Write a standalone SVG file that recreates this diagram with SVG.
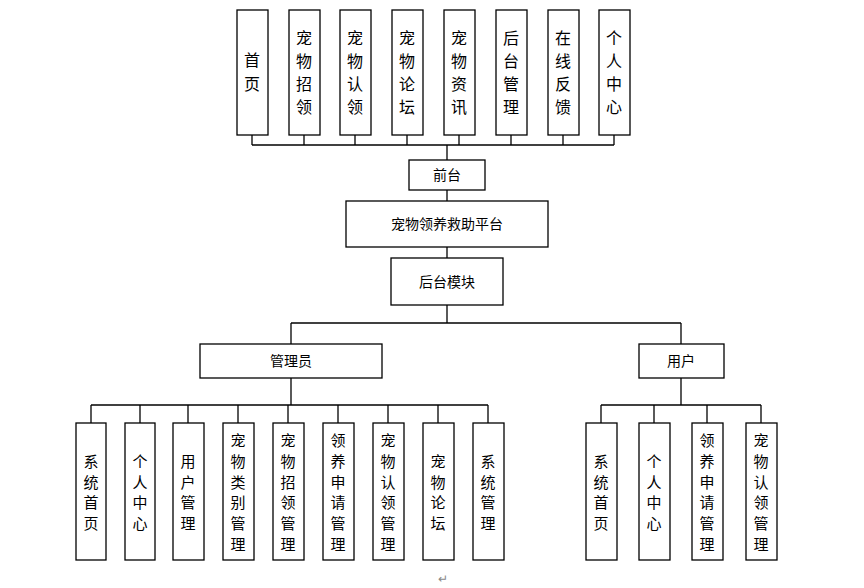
<svg xmlns="http://www.w3.org/2000/svg" width="864" height="588" viewBox="0 0 864 588">
<style>
rect{fill:#fff;stroke:#000;stroke-width:1.3}
.c line{stroke:#000;stroke-width:1.3}
text{font-family:"Noto Sans CJK SC",sans-serif;font-size:16px;fill:#000;text-anchor:middle}
.s{font-size:14px}
.b text{font-size:15px}
</style>
<rect x="0" y="0" width="864" height="588" style="stroke:none"/>
<g class="c">
<line x1="252" y1="135" x2="252" y2="145"/><line x1="304" y1="135" x2="304" y2="145"/><line x1="355" y1="135" x2="355" y2="145"/><line x1="407" y1="135" x2="407" y2="145"/><line x1="459" y1="135" x2="459" y2="145"/><line x1="511" y1="135" x2="511" y2="145"/><line x1="563" y1="135" x2="563" y2="145"/><line x1="614" y1="135" x2="614" y2="145"/>
<line x1="252" y1="145" x2="614" y2="145"/>
<line x1="447" y1="145" x2="447" y2="160"/>
<line x1="447" y1="190" x2="447" y2="201"/>
<line x1="447" y1="247" x2="447" y2="258"/>
<line x1="447" y1="305" x2="447" y2="323"/>
<line x1="291" y1="323" x2="681" y2="323"/>
<line x1="291" y1="323" x2="291" y2="344"/><line x1="681" y1="323" x2="681" y2="344"/>
<line x1="291" y1="378" x2="291" y2="405"/><line x1="681" y1="378" x2="681" y2="405"/>
<line x1="91" y1="405" x2="488" y2="405"/>
<line x1="91" y1="405" x2="91" y2="423"/><line x1="140" y1="405" x2="140" y2="423"/><line x1="188" y1="405" x2="188" y2="423"/><line x1="238" y1="405" x2="238" y2="423"/><line x1="288" y1="405" x2="288" y2="423"/><line x1="338" y1="405" x2="338" y2="423"/><line x1="388" y1="405" x2="388" y2="423"/><line x1="438" y1="405" x2="438" y2="423"/><line x1="488" y1="405" x2="488" y2="423"/>
<line x1="601" y1="405" x2="761" y2="405"/>
<line x1="601" y1="405" x2="601" y2="423"/><line x1="654" y1="405" x2="654" y2="423"/><line x1="707" y1="405" x2="707" y2="423"/><line x1="761" y1="405" x2="761" y2="423"/>
</g>
<g id="t1"><rect x="237" y="10" width="31" height="125"/><text x="252" y="66">首</text><text x="252" y="90">页</text></g>
<g id="t2"><rect x="289" y="10" width="31" height="125"/><text x="304" y="44">宠</text><text x="304" y="67">物</text><text x="304" y="90">招</text><text x="304" y="113">领</text></g>
<g id="t3"><rect x="340" y="10" width="31" height="125"/><text x="355" y="44">宠</text><text x="355" y="67">物</text><text x="355" y="90">认</text><text x="355" y="113">领</text></g>
<g id="t4"><rect x="392" y="10" width="31" height="125"/><text x="407" y="44">宠</text><text x="407" y="67">物</text><text x="407" y="90">论</text><text x="407" y="113">坛</text></g>
<g id="t5"><rect x="444" y="10" width="31" height="125"/><text x="459" y="44">宠</text><text x="459" y="67">物</text><text x="459" y="90">资</text><text x="459" y="113">讯</text></g>
<g id="t6"><rect x="496" y="10" width="31" height="125"/><text x="511" y="44">后</text><text x="511" y="67">台</text><text x="511" y="90">管</text><text x="511" y="113">理</text></g>
<g id="t7"><rect x="548" y="10" width="31" height="125"/><text x="563" y="44">在</text><text x="563" y="67">线</text><text x="563" y="90">反</text><text x="563" y="113">馈</text></g>
<g id="t8"><rect x="599" y="10" width="31" height="125"/><text x="614" y="44">个</text><text x="614" y="67">人</text><text x="614" y="90">中</text><text x="614" y="113">心</text></g>
<g id="qt"><rect x="409" y="160" width="76" height="30"/><text class="s" x="447" y="180">前台</text></g>
<g id="pt"><rect x="346" y="201" width="202" height="46"/><text class="s" x="447" y="229">宠物领养救助平台</text></g>
<g id="ht"><rect x="391" y="258" width="112" height="47"/><text class="s" x="447" y="287">后台模块</text></g>
<g id="gly"><rect x="200" y="344" width="182" height="34"/><text class="s" x="291" y="366">管理员</text></g>
<g id="yh"><rect x="639" y="344" width="85" height="34"/><text class="s" x="681" y="366">用户</text></g>
<g class="b">
<g id="a1"><rect x="76" y="423" width="30" height="137"/><text x="91" y="467">系</text><text x="91" y="488">统</text><text x="91" y="508">首</text><text x="91" y="529">页</text></g>
<g id="a2"><rect x="125" y="423" width="30" height="137"/><text x="140" y="467">个</text><text x="140" y="488">人</text><text x="140" y="508">中</text><text x="140" y="529">心</text></g>
<g id="a3"><rect x="173" y="423" width="31" height="137"/><text x="188" y="467">用</text><text x="188" y="488">户</text><text x="188" y="508">管</text><text x="188" y="529">理</text></g>
<g id="a4"><rect x="223" y="423" width="31" height="137"/><text x="238" y="446">宠</text><text x="238" y="467">物</text><text x="238" y="488">类</text><text x="238" y="508">别</text><text x="238" y="529">管</text><text x="238" y="550">理</text></g>
<g id="a5"><rect x="273" y="423" width="31" height="137"/><text x="288" y="446">宠</text><text x="288" y="467">物</text><text x="288" y="488">招</text><text x="288" y="508">领</text><text x="288" y="529">管</text><text x="288" y="550">理</text></g>
<g id="a6"><rect x="323" y="423" width="31" height="137"/><text x="338" y="446">领</text><text x="338" y="467">养</text><text x="338" y="488">申</text><text x="338" y="508">请</text><text x="338" y="529">管</text><text x="338" y="550">理</text></g>
<g id="a7"><rect x="373" y="423" width="31" height="137"/><text x="388" y="446">宠</text><text x="388" y="467">物</text><text x="388" y="488">认</text><text x="388" y="508">领</text><text x="388" y="529">管</text><text x="388" y="550">理</text></g>
<g id="a8"><rect x="423" y="423" width="31" height="137"/><text x="438" y="467">宠</text><text x="438" y="488">物</text><text x="438" y="508">论</text><text x="438" y="529">坛</text></g>
<g id="a9"><rect x="473" y="423" width="31" height="137"/><text x="488" y="467">系</text><text x="488" y="488">统</text><text x="488" y="508">管</text><text x="488" y="529">理</text></g>
<g id="u1"><rect x="586" y="423" width="31" height="137"/><text x="601" y="467">系</text><text x="601" y="488">统</text><text x="601" y="508">首</text><text x="601" y="529">页</text></g>
<g id="u2"><rect x="639" y="423" width="31" height="137"/><text x="654" y="467">个</text><text x="654" y="488">人</text><text x="654" y="508">中</text><text x="654" y="529">心</text></g>
<g id="u3"><rect x="692" y="423" width="31" height="137"/><text x="707" y="446">领</text><text x="707" y="467">养</text><text x="707" y="488">申</text><text x="707" y="508">请</text><text x="707" y="529">管</text><text x="707" y="550">理</text></g>
<g id="u4"><rect x="746" y="423" width="31" height="137"/><text x="761" y="446">宠</text><text x="761" y="467">物</text><text x="761" y="488">认</text><text x="761" y="508">领</text><text x="761" y="529">管</text><text x="761" y="550">理</text></g>
</g>
<text x="443" y="583" style="font-size:12px;fill:#888">↵</text>
</svg>
